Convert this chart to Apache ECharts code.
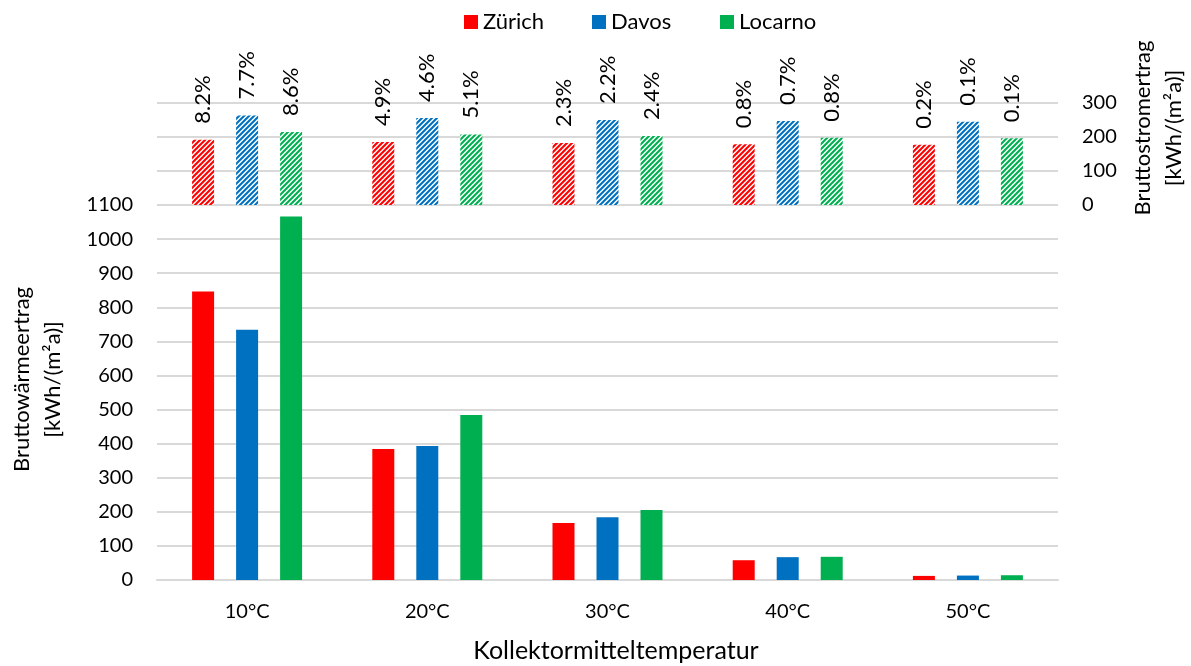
<!DOCTYPE html>
<html>
<head>
<meta charset="utf-8">
<script src="https://cdn.jsdelivr.net/npm/echarts@6/dist/echarts.min.js"></script>
<style>html,body{margin:0;padding:0;background:#fff}#c{width:1191px;height:666px}</style>
</head>
<body>
<div id="c"></div>
<script>
const categories = ['10°C', '20°C', '30°C', '40°C', '50°C'];
const seriesNames = ['Zürich', 'Davos', 'Locarno'];
// Bruttowärmeertrag [kWh/(m²a)]
const heatZurich  = [846, 384, 167, 58, 12];
const heatDavos   = [734, 393, 184, 67, 13];
const heatLocarno = [1066, 484, 205, 68, 14];
// Bruttostromertrag [kWh/(m²a)]
const elecZurich  = [192, 185, 182, 179, 177];
const elecDavos   = [263, 256, 250, 247, 245];
const elecLocarno = [215, 207, 203, 198, 196];
// percentage labels
const pctZurich  = ['8.2%', '4.9%', '2.3%', '0.8%', '0.2%'];
const pctDavos   = ['7.7%', '4.6%', '2.2%', '0.7%', '0.1%'];
const pctLocarno = ['8.6%', '5.1%', '2.4%', '0.8%', '0.1%'];
const heatTicks = {min: 0, max: 1100, interval: 100};
const elecTicks = {min: 0, max: 300, interval: 100};

const colors = ['#FF0000', '#0070C0', '#00B050'];
const FONT = 'Lato, "Liberation Sans", sans-serif';

function hatch(color) {
  const s = 5, c = document.createElement('canvas');
  c.width = s; c.height = s;
  const g = c.getContext('2d');
  g.fillStyle = '#fff'; g.fillRect(0, 0, s, s);
  g.strokeStyle = color; g.lineWidth = 2.1; g.beginPath();
  g.moveTo(0, s); g.lineTo(s, 0);
  g.moveTo(-s / 2, s / 2); g.lineTo(s / 2, -s / 2);
  g.moveTo(s / 2, s * 1.5); g.lineTo(s * 1.5, s / 2);
  g.stroke();
  return {image: c, repeat: 'repeat'};
}

const heat = [heatZurich, heatDavos, heatLocarno];
const elec = [elecZurich, elecDavos, elecLocarno];
const pct = [pctZurich, pctDavos, pctLocarno];

const series = [];
seriesNames.forEach((n, i) => {
  series.push({
    name: n, type: 'bar', xAxisIndex: 1, yAxisIndex: 1,
    data: heat[i], barWidth: 22, barGap: '100%',
    itemStyle: {color: colors[i]}
  });
});
seriesNames.forEach((n, i) => {
  series.push({
    name: n, type: 'bar', xAxisIndex: 0, yAxisIndex: 0,
    data: elec[i], barWidth: 22, barGap: '100%',
    itemStyle: {color: hatch(colors[i])},
    label: {
      show: true, position: 'top', rotate: 90, align: 'left', verticalAlign: 'middle',
      distance: 16, fontSize: 22, fontFamily: FONT, color: '#000',
      formatter: p => pct[i][p.dataIndex]
    }
  });
});

const legendLefts = [464, 592, 720];
const legends = seriesNames.map((n, i) => ({
  top: 11, left: legendLefts[i], padding: 0, itemWidth: 14, itemHeight: 14, icon: 'rect',
  textStyle: {fontSize: 22, color: '#000', fontFamily: FONT},
  data: [{name: n, itemStyle: {color: colors[i]}}]
}));

const chart = echarts.init(document.getElementById('c'));
chart.setOption({
  animation: false,
  backgroundColor: '#fff',
  textStyle: {fontFamily: FONT},
  legend: legends,
  grid: [
    {left: 157, width: 901, top: 103, height: 102, outerBoundsMode: 'none', containLabel: false},
    {left: 157, width: 901, top: 205, height: 375, outerBoundsMode: 'none', containLabel: false}
  ],
  xAxis: [
    {type: 'category', gridIndex: 0, data: categories, show: false},
    {type: 'category', gridIndex: 1, data: categories,
     axisLine: {lineStyle: {color: '#d9d9d9', width: 2}}, axisTick: {show: false},
     axisLabel: {fontSize: 20, color: '#000', margin: 22, fontFamily: FONT},
     name: 'Kollektormitteltemperatur', nameLocation: 'middle', nameGap: 58,
     nameTextStyle: {fontSize: 25, color: '#000', fontFamily: FONT, padding: [0, 0, 0, 17]}}
  ],
  yAxis: [
    {type: 'value', gridIndex: 0, position: 'right', ...elecTicks,
     axisLine: {show: false}, axisTick: {show: false},
     axisLabel: {fontSize: 20, color: '#000', margin: 24, fontFamily: FONT, formatter: v => String(v)},
     splitLine: {lineStyle: {color: '#d9d9d9', width: 2}},
     name: 'Bruttostromertrag\n[kWh/(m²a)]', nameLocation: 'middle', nameRotate: 90, nameGap: 69,
     nameTextStyle: {fontSize: 22, color: '#000', fontFamily: FONT, lineHeight: 31, padding: [0, 0, 0, 52]}},
    {type: 'value', gridIndex: 1, ...heatTicks,
     axisLine: {show: false}, axisTick: {show: false},
     axisLabel: {fontSize: 20, color: '#000', margin: 24, fontFamily: FONT, formatter: v => String(v)},
     splitLine: {lineStyle: {color: '#d9d9d9', width: 2}},
     name: 'Bruttowärmeertrag\n[kWh/(m²a)]', nameLocation: 'middle', nameRotate: 90, nameGap: 89,
     nameTextStyle: {fontSize: 22, color: '#000', fontFamily: FONT, lineHeight: 31, padding: [0, 0, 0, 26]}}
  ],
  series: series
});
</script>
</body>
</html>
